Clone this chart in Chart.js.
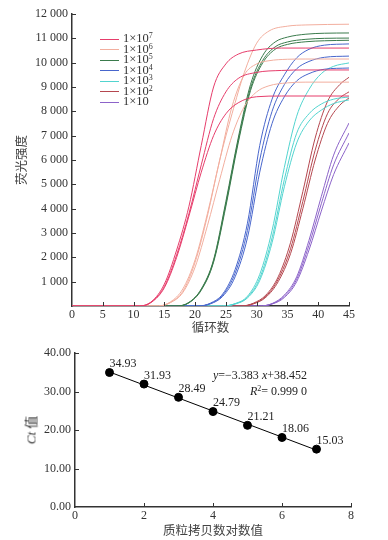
<!DOCTYPE html>
<html>
<head>
<meta charset="utf-8">
<script src="https://cdn.jsdelivr.net/npm/chart.js@4.4.1/dist/chart.umd.min.js"></script>
<style>
  body { margin: 0; background: #fff; }
  #page { position: relative; width: 388px; height: 540px; overflow: hidden; }
  canvas { position: absolute; left: 0; }
  #legend { position: absolute; left: 100px; top: 33px; font: 12.5px "Liberation Serif", serif; color: #333; }
  #legend .row { height: 10.5px; line-height: 10.5px; white-space: nowrap; }
  #legend .swatch { display: inline-block; width: 19px; height: 0; border-top: 1.5px solid; vertical-align: middle; margin-right: 4px; }
  #legend sup { font-size: 8px; vertical-align: 4px; line-height: 0; }
  .note { position: absolute; font: 12px "Liberation Serif", serif; color: #222; white-space: nowrap; }
  .note sup { font-size: 8px; vertical-align: 4px; line-height: 0; }
  #ctTitle { position: absolute; left: 30px; top: 430px; transform: translate(-50%, -50%) rotate(-90deg);
    font: 13px "Liberation Serif", "Noto Sans CJK SC", serif; color: #333; white-space: nowrap; }
</style>
</head>
<body>
<div id="page">
  <canvas id="graficoAmplificacao" width="388" height="340" style="top:0"></canvas>
  <canvas id="graficoPadrao" width="388" height="200" style="top:340px"></canvas>
  <div id="legend"></div>
  <div id="ctTitle"><i>Ct</i> 值</div>
  <div class="note" style="left:213px; top:368px"><i>y</i>=−3.383 <i>x</i>+38.452</div>
  <div class="note" style="left:250px; top:384px"><i>R</i><sup>2</sup>= 0.999 0</div>
</div>
<script>
// legend names (1×10^n) and colours, one per dilution
const legendExp = ["7", "6", "5", "4", "3", "2", ""];
const groupColors = ["#e63d6b", "#f2ae9e", "#3a7b4c", "#4866cc", "#52d4cf", "#b5474f", "#8c63c9"];

// amplification curves: cycles + fluorescence, three replicates per dilution
const cyc7 = [0, 11, 13, 15, 17, 19, 21, 23, 25, 27, 30, 34, 38, 45];
const fl7 = [
  [0, 0, 200, 900, 2300, 4100, 6600, 9000, 9950, 10350, 10520, 10600, 10600, 10600],
  [0, 0, 180, 800, 2100, 3800, 5800, 7700, 8800, 9350, 9600, 9680, 9700, 9700],
  [0, 0, 170, 750, 2000, 3700, 5500, 7000, 7900, 8350, 8600, 8630, 8630, 8630]
];
const cyc6 = [0, 14, 16, 18, 20, 22, 24, 26, 28, 30, 32, 35, 38, 45];
const fl6 = [
  [0, 0, 150, 600, 1800, 3700, 6000, 7900, 9600, 10800, 11300, 11500, 11550, 11580],
  [0, 0, 170, 700, 1900, 3800, 6000, 8200, 9500, 9950, 10080, 10140, 10150, 10150],
  [0, 0, 140, 550, 1600, 3300, 5200, 7000, 8200, 8800, 9050, 9170, 9200, 9200]
];
const cyc5 = [0, 17, 19, 21, 23, 25, 27, 29, 31, 33, 35, 38, 41, 45];
const fl5 = [
  [0, 0, 150, 700, 1900, 4300, 6900, 9100, 10300, 10850, 11050, 11170, 11210, 11220],
  [0, 0, 140, 680, 1850, 4200, 6800, 8950, 10100, 10650, 10850, 10960, 11000, 11010],
  [0, 0, 130, 650, 1800, 4100, 6700, 8850, 10000, 10550, 10750, 10860, 10900, 10920]
];
const cyc4 = [0, 20.5, 22.5, 24.5, 26.5, 28.5, 30.5, 32.5, 34.5, 36.5, 38.5, 41, 45];
const fl4 = [
  [0, 0, 120, 500, 1500, 3400, 6600, 8500, 9500, 10200, 10550, 10720, 10770],
  [0, 0, 100, 450, 1350, 3100, 6000, 8000, 9100, 9750, 10050, 10220, 10270],
  [0, 0, 90, 400, 1200, 2800, 5500, 7500, 8600, 9250, 9550, 9730, 9780]
];
const cyc3 = [0, 24.5, 26.5, 28.5, 30.5, 32.5, 34.5, 36.5, 38.5, 40.5, 42.5, 45];
const fl3 = [
  [0, 0, 100, 400, 1300, 3100, 5700, 7800, 8900, 9550, 9850, 9990],
  [0, 0, 90, 360, 1150, 2800, 5200, 7100, 7900, 8300, 8500, 8590],
  [0, 0, 80, 330, 1050, 2600, 4900, 6700, 7600, 8050, 8320, 8470]
];
const cyc2 = [0, 27.5, 29.5, 31.5, 33.5, 35.5, 37.5, 39.5, 41.5, 43.5, 45];
const fl2 = [
  [0, 0, 120, 450, 1200, 2600, 4700, 6900, 8400, 9100, 9400],
  [0, 0, 100, 400, 1100, 2350, 4300, 6400, 7900, 8550, 8800],
  [0, 0, 90, 360, 1000, 2150, 4000, 6000, 7500, 8250, 8550]
];
const cyc1 = [0, 30.5, 32.5, 34.5, 36.5, 38.5, 40.5, 42.5, 45];
const fl1 = [
  [0, 0, 100, 450, 1200, 2700, 4500, 6200, 7520],
  [0, 0, 90, 400, 1100, 2500, 4200, 5800, 7110],
  [0, 0, 80, 350, 1000, 2300, 3900, 5400, 6700]
];

// standard curve: log10 copies vs Ct, plus the fitted line ends
const logCopies = [1, 2, 3, 4, 5, 6, 7];
const ctValues = [34.93, 31.93, 28.49, 24.79, 21.21, 18.06, 15.03];
const fitX = [1, 7];
const fitY = [35.07, 14.77];

const serif = "'Liberation Serif', 'Times New Roman', serif";
const cjk = "'Noto Sans CJK SC', sans-serif";

// ticks pointing into the plot, like the original figure
const inwardTicks = {
  id: "inwardTicks",
  afterDraw(chart) {
    const { ctx, scales: { x, y } } = chart;
    ctx.save();
    ctx.strokeStyle = "#333";
    ctx.lineWidth = 1;
    ctx.beginPath();
    x.ticks.forEach((t) => {
      if (t.value === x.min) return;
      const px = Math.round(x.getPixelForValue(t.value)) + 0.5;
      ctx.moveTo(px, x.top);
      ctx.lineTo(px, x.top - 4);
    });
    y.ticks.forEach((t) => {
      if (t.value === y.min) return;
      const py = Math.round(y.getPixelForValue(t.value)) + 0.5;
      ctx.moveTo(y.right, py);
      ctx.lineTo(y.right + 4, py);
    });
    ctx.stroke();
    ctx.restore();
  },
};

// Ct value written beside every point
const pointLabels = {
  id: "pointLabels",
  afterDatasetsDraw(chart) {
    const { ctx } = chart;
    const meta = chart.getDatasetMeta(0);
    ctx.save();
    ctx.font = "12px " + serif;
    ctx.fillStyle = "#222";
    ctx.textAlign = "left";
    ctx.textBaseline = "middle";
    meta.data.forEach((el, i) => {
      ctx.fillText(ctValues[i].toFixed(2), el.x, el.y - 8.5);
    });
    ctx.restore();
  },
};

document.addEventListener("DOMContentLoaded", () => {
  Chart.defaults.font.family = serif;
  Chart.defaults.color = "#333";

  // legend in html
  const legend = document.getElementById("legend");
  legendExp.forEach((e, i) => {
    const row = document.createElement("div");
    row.className = "row";
    row.innerHTML = '<span class="swatch" style="border-color:' + groupColors[i] + '"></span>1×10' + (e ? "<sup>" + e + "</sup>" : "");
    legend.appendChild(row);
  });

  const groups = [[cyc7, fl7], [cyc6, fl6], [cyc5, fl5], [cyc4, fl4], [cyc3, fl3], [cyc2, fl2], [cyc1, fl1]];
  const ampDatasets = [];
  groups.forEach(([cyc, reps], g) => {
    reps.forEach((vals) => {
      ampDatasets.push({
        data: cyc.map((c, i) => ({ x: c, y: vals[i] })),
        borderColor: groupColors[g],
        borderWidth: 1,
        pointRadius: 0,
        cubicInterpolationMode: "monotone",
      });
    });
  });

  new Chart(document.getElementById("graficoAmplificacao").getContext("2d"), {
    type: "line",
    data: { datasets: ampDatasets },
    options: {
      responsive: false,
      animation: false,
      layout: { padding: { top: 14, right: 39, left: 0, bottom: 0 } },
      plugins: { legend: { display: false }, tooltip: { enabled: false } },
      scales: {
        x: {
          type: "linear",
          min: 0,
          max: 45,
          ticks: { stepSize: 5, padding: 2, font: { size: 12 } },
          grid: { display: false, drawTicks: false },
          border: { display: true, color: "#333", width: 1.5 },
          title: { display: true, text: "循环数", color: "#444", font: { family: cjk, size: 12.5 }, padding: { top: 0, bottom: 5 } },
          afterFit: (s) => { s.height = 34; },
        },
        y: {
          min: 0,
          max: 12000,
          ticks: {
            stepSize: 1000,
            padding: 4,
            font: { size: 12 },
            callback: (v) => (v === 0 ? "" : v / 1000 + " 000"),
          },
          grid: { display: false, drawTicks: false },
          border: { display: true, color: "#333", width: 1.5 },
          title: { display: true, text: "荧光强度", color: "#444", font: { family: cjk, size: 12.5 }, padding: { top: 14, bottom: 0 } },
          afterFit: (s) => { s.width = 72; },
        },
      },
    },
    plugins: [inwardTicks],
  });

  new Chart(document.getElementById("graficoPadrao").getContext("2d"), {
    type: "scatter",
    data: {
      datasets: [
        {
          data: logCopies.map((x, i) => ({ x: x, y: ctValues[i] })),
          backgroundColor: "#000",
          borderColor: "#000",
          pointRadius: 4,
        },
        {
          type: "line",
          data: fitX.map((x, i) => ({ x: x, y: fitY[i] })),
          borderColor: "#000",
          borderWidth: 1,
          pointRadius: 0,
        },
      ],
    },
    options: {
      responsive: false,
      animation: false,
      layout: { padding: { top: 13, right: 37, left: 0, bottom: 0 } },
      plugins: { legend: { display: false }, tooltip: { enabled: false } },
      scales: {
        x: {
          type: "linear",
          min: 0,
          max: 8,
          ticks: { stepSize: 2, padding: 2, font: { size: 12 } },
          grid: { display: false, drawTicks: false },
          border: { display: true, color: "#333", width: 1.5 },
          title: { display: true, text: "质粒拷贝数对数值", color: "#444", font: { family: cjk, size: 12.5 }, padding: { top: 0, bottom: 2.5 } },
          afterFit: (s) => { s.height = 33; },
        },
        y: {
          min: 0,
          max: 40,
          ticks: { stepSize: 10, padding: 4, font: { size: 12 }, callback: (v) => v.toFixed(2) },
          grid: { display: false, drawTicks: false },
          border: { display: true, color: "#333", width: 1.5 },
          afterFit: (s) => { s.width = 75; },
        },
      },
    },
    plugins: [inwardTicks, pointLabels],
  });
});
</script>
</body>
</html>
